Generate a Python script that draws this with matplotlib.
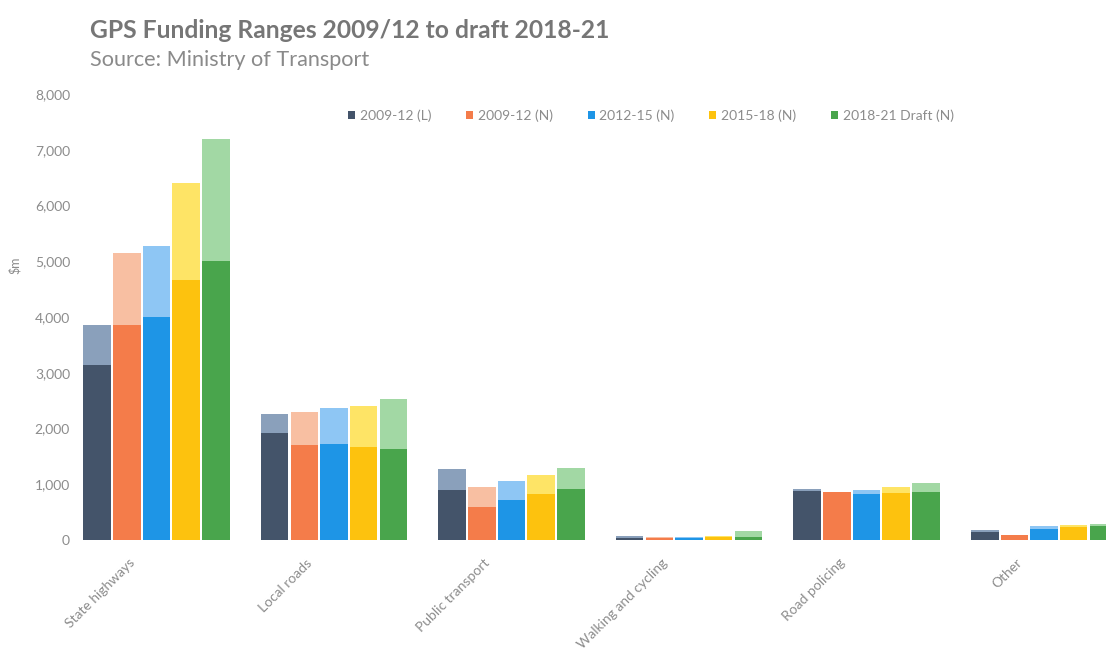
import numpy as np
import matplotlib.pyplot as plt
import matplotlib.transforms as mtransforms
from matplotlib.patches import Patch

plt.rcParams['font.family'] = ['Lato', 'DejaVu Sans']

categories = ['State highways', 'Local roads', 'Public transport',
              'Walking and cycling', 'Road policing', 'Other']
series = ['2009-12 (L)', '2009-12 (N)', '2012-15 (N)', '2015-18 (N)', '2018-21 Draft (N)']

# lower end of each funding range ($m)
low_0912_l = [3140, 1920, 900, 40, 880, 150]
low_0912_n = [3860, 1700, 600, 30, 860, 95]
low_1215_n = [4000, 1720, 720, 35, 820, 195]
low_1518_n = [4670, 1670, 830, 50, 840, 235]
low_1821_n = [5010, 1630, 920, 50, 868, 245]

# upper end of each funding range ($m)
high_0912_l = [3860, 2260, 1270, 70, 915, 180]
high_0912_n = [5150, 2300, 950, 45, 868, 95]
high_1215_n = [5280, 2370, 1060, 55, 897, 245]
high_1518_n = [6410, 2400, 1170, 80, 945, 270]
high_1821_n = [7200, 2530, 1290, 170, 1017, 290]

lows = [low_0912_l, low_0912_n, low_1215_n, low_1518_n, low_1821_n]
highs = [high_0912_l, high_0912_n, high_1215_n, high_1518_n, high_1821_n]

dark_colors = ['#44546a', '#f47c4a', '#1e95e6', '#fdc20e', '#49a54c']
light_colors = ['#8aa0bb', '#f8bfa2', '#8ec6f4', '#fee466', '#a2d8a4']

fig = plt.figure(figsize=(11.06, 6.5), dpi=100)
ax = fig.add_axes([75 / 1106, 110 / 650, (1106 - 75) / 1106, 446 / 650])

x = np.arange(len(categories))
pitch = 0.167
width = 0.155
for i in range(len(series)):
    pos = x + (i - 2) * pitch
    lo = np.array(lows[i])
    hi = np.array(highs[i])
    ax.bar(pos, lo, width, color=dark_colors[i], linewidth=0)
    ax.bar(pos, hi - lo, width, bottom=lo, color=light_colors[i], linewidth=0)

ax.set_xlim(-0.459, 5.349)
ax.set_ylim(0, 8000)
ax.set_yticks(range(0, 8001, 1000))
ax.set_yticklabels([f'{v:,}' for v in range(0, 8001, 1000)])
ax.set_xticks(x)
ax.set_xticklabels(categories, rotation=45, ha='right', rotation_mode='anchor')
ax.tick_params(axis='both', length=0, colors='#8c8c8c', labelsize=10)
ax.tick_params(axis='y', pad=3.6)
ax.tick_params(axis='x', pad=12)
# Excel puts the label ends a bit left of the category centre
shift = mtransforms.ScaledTranslation(-0.28, 0, fig.dpi_scale_trans)
for lbl in ax.get_xticklabels():
    lbl.set_transform(lbl.get_transform() + shift)
for s in ax.spines.values():
    s.set_visible(False)

fig.text(15 / 1106, 1 - 265 / 650, '$m', rotation=90, color='#8c8c8c',
         fontsize=9, ha='center', va='center')

fig.text(90 / 1106, 1 - 30 / 650, 'GPS Funding Ranges 2009/12 to draft 2018-21',
         fontsize=17.7, fontweight='bold', color='#767676', va='center')
fig.text(90 / 1106, 1 - 60 / 650, 'Source: Ministry of Transport',
         fontsize=15.6, color='#8a8a8a', va='center')

handles = [Patch(facecolor=c, edgecolor='none') for c in dark_colors]
fig.legend(handles, series, loc='center', bbox_to_anchor=(651 / 1106, 1 - 116 / 650),
           ncol=5, frameon=False, fontsize=10, labelcolor='#8c8c8c',
           handlelength=0.5, handleheight=0.5, handletextpad=0.35, columnspacing=2.5)

fig.savefig('out.png', dpi=100)
